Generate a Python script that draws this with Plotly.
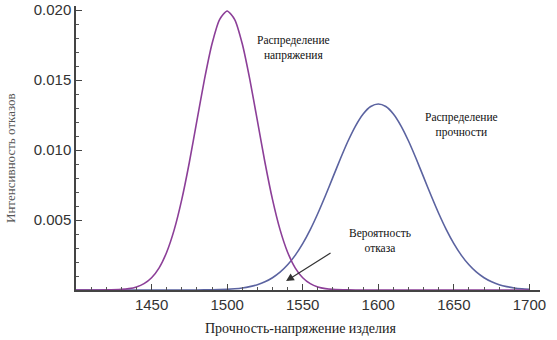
import plotly.graph_objects as go

# Stress distribution (purple)
stress_x = [1400, 1410, 1420, 1430, 1435, 1440, 1445, 1450, 1455, 1460, 1465, 1470, 1475,
            1480, 1485, 1490, 1495, 1500, 1505, 1510, 1515, 1520, 1525, 1530, 1535, 1540,
            1545, 1550, 1555, 1560, 1565, 1570, 1580, 1590, 1600, 1650, 1700]
stress_y = [0.0, 0.0000010, 0.0000067, 0.0000436, 0.000101, 0.000222, 0.000455, 0.000877,
            0.001587, 0.002700, 0.004314, 0.006476, 0.009132, 0.012099, 0.015057, 0.017603,
            0.019333, 0.019947, 0.019333, 0.017603, 0.015057, 0.012099, 0.009132, 0.006476,
            0.004314, 0.002700, 0.001587, 0.000877, 0.000455, 0.000222, 0.000101, 0.0000436,
            0.0000067, 0.0000010, 0.0, 0.0, 0.0]

# Strength distribution (blue)
strength_x = [1400, 1450, 1480, 1490, 1500, 1505, 1510, 1515, 1520, 1525, 1530, 1535, 1540,
              1545, 1550, 1555, 1560, 1565, 1570, 1575, 1580, 1585, 1590, 1595, 1600, 1605,
              1610, 1615, 1620, 1625, 1630, 1635, 1640, 1645, 1650, 1655, 1660, 1665, 1670,
              1675, 1680, 1685, 1690, 1695, 1700]
strength_y = [0.0, 0.0000001, 0.0000045, 0.000016, 0.0000514, 0.0000884, 0.000148, 0.000240,
              0.000380, 0.000584, 0.000874, 0.001272, 0.001800, 0.002477, 0.003316, 0.004317,
              0.005467, 0.006733, 0.008066, 0.009397, 0.010648, 0.011735, 0.012579, 0.013115,
              0.013298, 0.013115, 0.012579, 0.011735, 0.010648, 0.009397, 0.008066, 0.006733,
              0.005467, 0.004317, 0.003316, 0.002477, 0.001800, 0.001272, 0.000874, 0.000584,
              0.000380, 0.000240, 0.000148, 0.0000884, 0.0000514]

x_tickvals = [1450, 1500, 1550, 1600, 1650, 1700]
y_tickvals = [0.005, 0.010, 0.015, 0.020]
y_ticktext = ["0.005", "0.010", "0.015", "0.020"]

x_title = "Прочность-напряжение изделия"
y_title = "Интенсивность отказов"
label_stress = "Распределение<br>напряжения"
label_strength = "Распределение<br>прочности"
label_failure = "Вероятность<br>отказа"

fig = go.Figure()
fig.add_trace(go.Scatter(x=strength_x, y=strength_y, mode="lines",
                         line=dict(color="#5b63a0", width=1.6, shape="spline", smoothing=0.6),
                         showlegend=False, hoverinfo="skip"))
fig.add_trace(go.Scatter(x=stress_x, y=stress_y, mode="lines",
                         line=dict(color="#8c3f98", width=1.6, shape="spline", smoothing=0.6),
                         showlegend=False, hoverinfo="skip"))

serif = "Liberation Serif"
sans = "Liberation Sans"

fig.update_layout(
    width=557, height=340,
    margin=dict(l=76, r=17, t=6, b=50, autoexpand=False),
    paper_bgcolor="white", plot_bgcolor="white",
    font=dict(family=sans),
    xaxis=dict(range=[1400, 1707], tickvals=x_tickvals, ticks="inside", ticklen=6,
               tickcolor="#444", showline=True, linecolor="#444", linewidth=1.5,
               showgrid=False, zeroline=False, automargin=False,
               tickfont=dict(family=sans, size=15, color="#333"),
               minor=dict(dtick=10, ticks="inside", ticklen=3, tickcolor="#555")),
    yaxis=dict(range=[0, 0.0203], tickvals=y_tickvals, ticktext=y_ticktext,
               ticks="inside", ticklen=6, tickcolor="#444", showline=True,
               linecolor="#444", linewidth=1.5, showgrid=False, zeroline=False,
               automargin=False,
               tickfont=dict(family=sans, size=15, color="#333"),
               minor=dict(dtick=0.001, ticks="inside", ticklen=3, tickcolor="#555")),
)

# axis titles
fig.add_annotation(xref="paper", yref="paper", x=0.483, y=-0.134, text=x_title,
                   xanchor="center", yanchor="middle",
                   showarrow=False, font=dict(family=serif, size=14, color="#222"))
fig.add_annotation(xref="paper", yref="paper", x=-0.140, y=0.465, text=y_title,
                   xanchor="center", yanchor="middle",
                   textangle=-90, showarrow=False,
                   font=dict(family=serif, size=13, color="#555"))

fig.add_annotation(x=1543.6, y=0.01729, text=label_stress, showarrow=False,
                   font=dict(family=serif, size=11.5, color="#111"))
fig.add_annotation(x=1654.8, y=0.01179, text=label_strength, showarrow=False,
                   font=dict(family=serif, size=11.5, color="#111"))
fig.add_annotation(x=1601, y=0.00357, text=label_failure, showarrow=False,
                   font=dict(family=serif, size=11.5, color="#111"))
fig.add_annotation(x=1539, y=0.00064, ax=1569.4, ay=0.00271, axref="x", ayref="y",
                   xref="x", yref="y", text="", showarrow=True, arrowhead=2,
                   arrowsize=1.3, arrowwidth=1.2, arrowcolor="#333")

fig.write_html("out.html", config={"displayModeBar": False},
               post_script="document.body.style.margin='0';")
